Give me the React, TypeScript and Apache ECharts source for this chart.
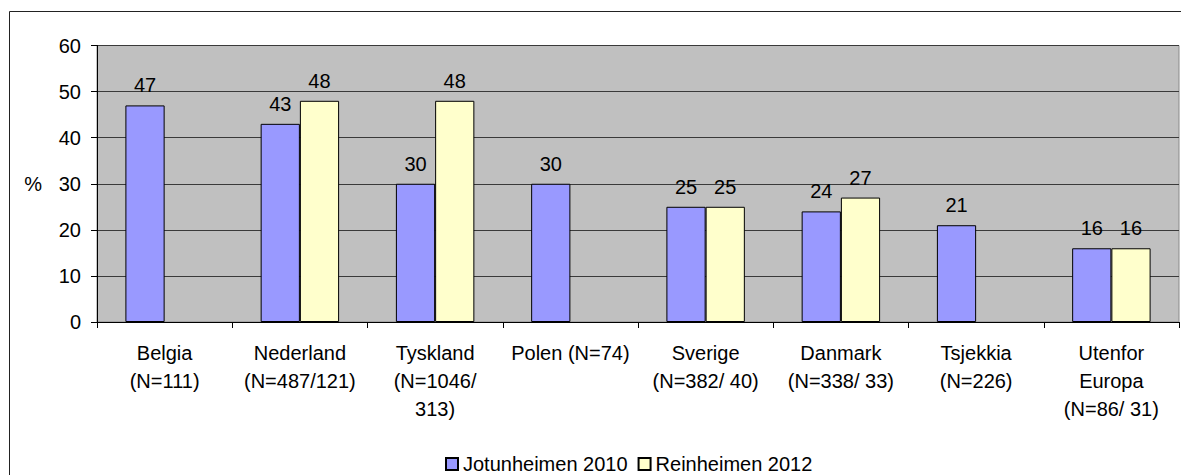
import React, { useEffect, useRef } from "react";
import * as echarts from "echarts";

const categories = [
  "Belgia\n(N=111)",
  "Nederland\n(N=487/121)",
  "Tyskland\n(N=1046/\n313)",
  "Polen (N=74)",
  "Sverige\n(N=382/ 40)",
  "Danmark\n(N=338/ 33)",
  "Tsjekkia\n(N=226)",
  "Utenfor\nEuropa\n(N=86/ 31)",
];
const jotunheimen2010 = [47, 43, 30, 30, 25, 24, 21, 16];
const reinheimen2012 = [null, 48, 48, null, 25, 27, null, 16];
const yTicks = { min: 0, max: 60, interval: 10 };

const FONT = "'Liberation Sans', Arial, sans-serif";

export default function App() {
  const ref = useRef<HTMLDivElement>(null);
  useEffect(() => {
    if (!ref.current) return;
    const chart = echarts.init(ref.current, undefined, { renderer: "svg" });
    const labelCfg = {
      show: true,
      position: "top",
      distance: 10,
      fontSize: 20,
      color: "#000",
      fontFamily: FONT,
    };
    chart.setOption({
      animation: false,
      backgroundColor: "#fff",
      textStyle: { fontFamily: FONT },
      graphic: [
        {
          type: "rect",
          shape: { x: 9.5, y: 11.5, width: 1200, height: 500 },
          style: { fill: "none", stroke: "#222", lineWidth: 1 },
          silent: true,
          z: -1,
        },
      ],
      grid: {
        left: 97,
        top: 45.5,
        right: 2,
        bottom: 153,
        show: true,
        backgroundColor: "#C0C0C0",
        borderColor: "#8a8a8a",
        borderWidth: 1,
      },
      legend: {
        top: 454,
        left: 440,
        padding: [0, 5],
        itemWidth: 12,
        itemHeight: 12,
        itemGap: 10,
        icon: "rect",
        textStyle: { fontSize: 20, lineHeight: 20, color: "#000", fontFamily: FONT },
        data: ["Jotunheimen 2010", "Reinheimen 2012"],
      },
      xAxis: {
        type: "category",
        data: categories,
        axisLine: { show: true, lineStyle: { color: "#000", width: 1 } },
        axisTick: { show: true, length: 6, interval: 0, lineStyle: { color: "#000" } },
        axisLabel: {
          interval: 0,
          fontSize: 20,
          lineHeight: 28,
          color: "#000",
          margin: 17,
          fontFamily: FONT,
        },
      },
      yAxis: {
        type: "value",
        min: yTicks.min,
        max: yTicks.max,
        interval: yTicks.interval,
        name: "%",
        nameLocation: "middle",
        nameRotate: 0,
        nameGap: 55,
        nameTextStyle: { fontSize: 20, color: "#000", fontFamily: FONT },
        axisLine: { show: true, lineStyle: { color: "#000", width: 1 } },
        axisTick: { show: true, length: 6, lineStyle: { color: "#000" } },
        axisLabel: { fontSize: 20, color: "#000", margin: 16, fontFamily: FONT },
        splitLine: { show: true, lineStyle: { color: "#3a3a3a", width: 1 } },
      },
      series: [
        {
          name: "Jotunheimen 2010",
          type: "bar",
          data: jotunheimen2010,
          barGap: "0%",
          barCategoryGap: "42%",
          itemStyle: { color: "#9999FF", borderColor: "#000", borderWidth: 1 },
          label: labelCfg,
        },
        {
          name: "Reinheimen 2012",
          type: "bar",
          data: reinheimen2012,
          barGap: "0%",
          barCategoryGap: "42%",
          itemStyle: { color: "#FFFFCC", borderColor: "#000", borderWidth: 1 },
          label: labelCfg,
        },
      ],
    });
    return () => chart.dispose();
  }, []);
  return (
    <div
      ref={ref}
      style={{ position: "absolute", left: 0, top: 0, width: 1181, height: 475 }}
    />
  );
}
